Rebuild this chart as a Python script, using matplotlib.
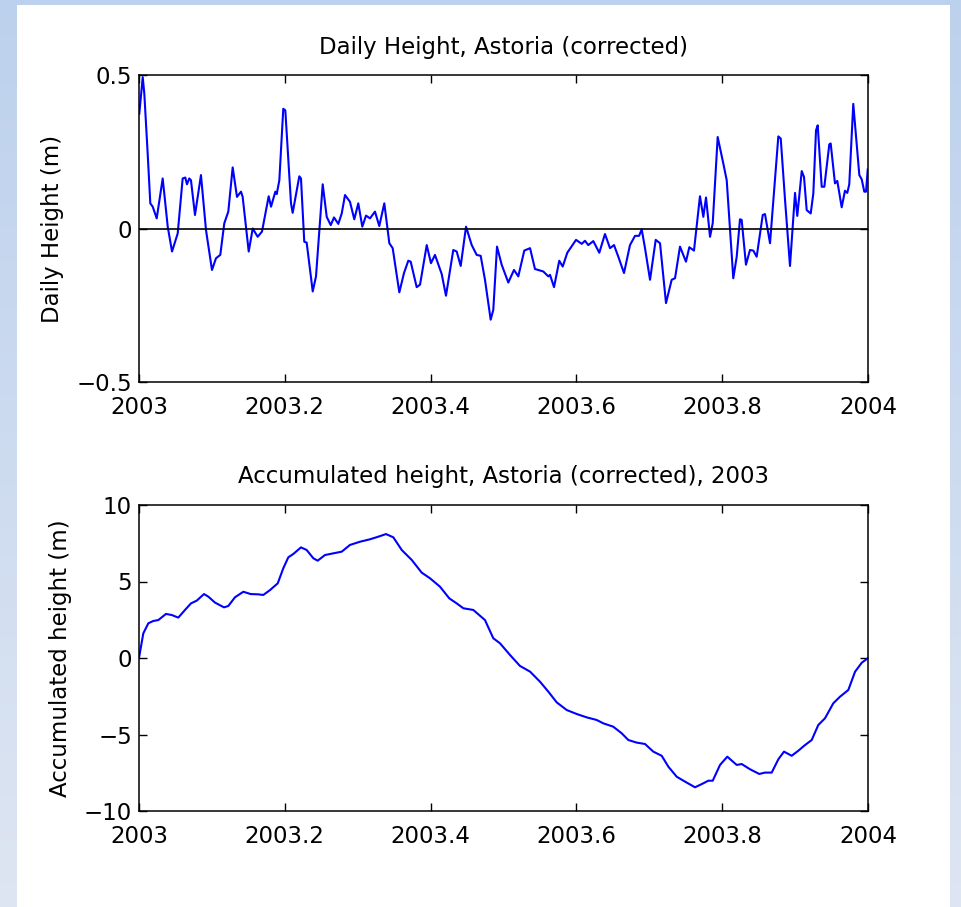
import matplotlib
matplotlib.use("Agg")
import matplotlib.pyplot as plt
import numpy as np
from matplotlib.patches import Rectangle

plt.rcParams['font.family'] = ['DejaVu Sans']

# ---- Data ----
daily_t = [2003.0004, 2003.0051, 2003.0073, 2003.0119, 2003.0155, 2003.0188, 2003.0243, 2003.0325,
           2003.0394, 2003.0453, 2003.0531, 2003.0599, 2003.0635, 2003.0658, 2003.0690, 2003.0713,
           2003.0768, 2003.0850, 2003.0919, 2003.1001, 2003.1056, 2003.1115, 2003.1170, 2003.1225,
           2003.1285, 2003.1344, 2003.1399, 2003.1422, 2003.1505, 2003.1560, 2003.1628, 2003.1687,
           2003.1779, 2003.1811, 2003.1870, 2003.1889, 2003.1925, 2003.1979, 2003.2007, 2003.2085,
           2003.2108, 2003.2199, 2003.2222, 2003.2267, 2003.2300, 2003.2383, 2003.2428, 2003.2520,
           2003.2575, 2003.2630, 2003.2675, 2003.2734, 2003.2781, 2003.2826, 2003.2894, 2003.2953,
           2003.3008, 2003.3063, 2003.3114, 2003.3169, 2003.3237, 2003.3296, 2003.3365, 2003.3434,
           2003.3480, 2003.3571, 2003.3635, 2003.3694, 2003.3727, 2003.3809, 2003.3855, 2003.3947,
           2003.4005, 2003.4060, 2003.4152, 2003.4211, 2003.4311, 2003.4358, 2003.4413, 2003.4486,
           2003.4564, 2003.4632, 2003.4687, 2003.4746, 2003.4824, 2003.4860, 2003.4911, 2003.4975,
           2003.5066, 2003.5144, 2003.5203, 2003.5285, 2003.5364, 2003.5432, 2003.5546, 2003.5615,
           2003.5638, 2003.5693, 2003.5765, 2003.5812, 2003.5875, 2003.5995, 2003.6073, 2003.6118,
           2003.6163, 2003.6232, 2003.6314, 2003.6392, 2003.6461, 2003.6516, 2003.6575, 2003.6653,
           2003.6735, 2003.6804, 2003.6859, 2003.6896, 2003.6941, 2003.7010, 2003.7088, 2003.7147,
           2003.7229, 2003.7307, 2003.7353, 2003.7421, 2003.7503, 2003.7549, 2003.7613, 2003.7695,
           2003.7741, 2003.7778, 2003.7833, 2003.7870, 2003.7938, 2003.8015, 2003.8062, 2003.8152,
           2003.8199, 2003.8244, 2003.8267, 2003.8326, 2003.8381, 2003.8427, 2003.8473, 2003.8556,
           2003.8587, 2003.8656, 2003.8770, 2003.8803, 2003.8862, 2003.8930, 2003.8999, 2003.9030,
           2003.9091, 2003.9122, 2003.9159, 2003.9214, 2003.9250, 2003.9287, 2003.9310, 2003.9365,
           2003.9401, 2003.9469, 2003.9488, 2003.9547, 2003.9579, 2003.9639, 2003.9684, 2003.9716,
           2003.9743, 2003.9798, 2003.9881, 2003.9914, 2003.9949, 2003.9973, 2003.9996]
daily_h = [0.374, 0.493, 0.439, 0.244, 0.082, 0.071, 0.033, 0.163,
           0.006, -0.075, -0.016, 0.163, 0.166, 0.144, 0.163, 0.157,
           0.044, 0.174, -0.005, -0.135, -0.097, -0.086, 0.017, 0.055,
           0.199, 0.103, 0.120, 0.103, -0.075, 0.000, -0.027, -0.010,
           0.105, 0.071, 0.120, 0.112, 0.157, 0.390, 0.385, 0.082,
           0.051, 0.170, 0.163, -0.043, -0.046, -0.205, -0.156, 0.144,
           0.038, 0.011, 0.036, 0.015, 0.049, 0.109, 0.087, 0.030,
           0.082, 0.006, 0.042, 0.033, 0.055, 0.008, 0.082, -0.048,
           -0.064, -0.208, -0.145, -0.105, -0.108, -0.191, -0.183, -0.054,
           -0.113, -0.086, -0.148, -0.219, -0.070, -0.075, -0.122, 0.006,
           -0.054, -0.086, -0.089, -0.167, -0.297, -0.265, -0.059, -0.118,
           -0.176, -0.135, -0.156, -0.072, -0.064, -0.132, -0.140, -0.156,
           -0.151, -0.191, -0.105, -0.124, -0.079, -0.037, -0.050, -0.040,
           -0.054, -0.041, -0.079, -0.018, -0.064, -0.054, -0.092, -0.145,
           -0.054, -0.024, -0.024, -0.003, -0.064, -0.167, -0.037, -0.048,
           -0.243, -0.167, -0.162, -0.059, -0.108, -0.061, -0.072, 0.105,
           0.038, 0.101, -0.027, 0.017, 0.298, 0.212, 0.157, -0.162,
           -0.092, 0.030, 0.028, -0.118, -0.070, -0.072, -0.092, 0.044,
           0.047, -0.048, 0.300, 0.293, 0.093, -0.122, 0.116, 0.041,
           0.187, 0.168, 0.060, 0.049, 0.114, 0.320, 0.336, 0.136,
           0.136, 0.274, 0.277, 0.147, 0.155, 0.069, 0.123, 0.116,
           0.144, 0.406, 0.174, 0.160, 0.120, 0.120, 0.192]

accum_t = [2003.0000, 2003.0059, 2003.0128, 2003.0196, 2003.0265, 2003.0370, 2003.0449, 2003.0539,
           2003.0631, 2003.0713, 2003.0792, 2003.0892, 2003.0951, 2003.1043, 2003.1166, 2003.1225,
           2003.1317, 2003.1431, 2003.1532, 2003.1636, 2003.1705, 2003.1797, 2003.1903, 2003.1979,
           2003.2048, 2003.2117, 2003.2222, 2003.2300, 2003.2391, 2003.2451, 2003.2551, 2003.2665,
           2003.2781, 2003.2894, 2003.3032, 2003.3169, 2003.3283, 2003.3388, 2003.3488, 2003.3604,
           2003.3741, 2003.3878, 2003.3992, 2003.4129, 2003.4256, 2003.4358, 2003.4449, 2003.4586,
           2003.4746, 2003.4860, 2003.4952, 2003.5089, 2003.5226, 2003.5364, 2003.5501, 2003.5615,
           2003.5730, 2003.5867, 2003.6004, 2003.6141, 2003.6278, 2003.6369, 2003.6506, 2003.6621,
           2003.6712, 2003.6827, 2003.6941, 2003.7055, 2003.7170, 2003.7261, 2003.7376, 2003.7490,
           2003.7627, 2003.7741, 2003.7809, 2003.7870, 2003.7970, 2003.8070, 2003.8199, 2003.8267,
           2003.8381, 2003.8509, 2003.8587, 2003.8679, 2003.8770, 2003.8848, 2003.8953, 2003.9044,
           2003.9136, 2003.9228, 2003.9318, 2003.9410, 2003.9524, 2003.9616, 2003.9730, 2003.9822,
           2003.9914, 2003.9996]
accum_h = [0.00, 1.61, 2.27, 2.42, 2.48, 2.88, 2.81, 2.64,
           3.14, 3.57, 3.75, 4.18, 4.01, 3.62, 3.31, 3.40,
           3.97, 4.33, 4.18, 4.16, 4.12, 4.44, 4.88, 5.86,
           6.58, 6.80, 7.23, 7.06, 6.52, 6.36, 6.73, 6.84,
           6.95, 7.39, 7.60, 7.76, 7.93, 8.10, 7.89, 7.06,
           6.41, 5.58, 5.21, 4.66, 3.90, 3.57, 3.25, 3.14,
           2.48, 1.29, 0.96, 0.20, -0.52, -0.89, -1.55, -2.20,
           -2.90, -3.40, -3.66, -3.88, -4.05, -4.27, -4.49, -4.92,
           -5.36, -5.53, -5.62, -6.12, -6.39, -7.10, -7.76, -8.08,
           -8.45, -8.19, -8.02, -8.02, -6.99, -6.45, -6.99, -6.93,
           -7.27, -7.58, -7.49, -7.49, -6.62, -6.12, -6.39, -6.06,
           -5.69, -5.36, -4.38, -3.94, -2.96, -2.53, -2.09, -0.90,
           -0.31, -0.02]

x_ticks = [2003.0, 2003.2, 2003.4, 2003.6, 2003.8, 2004.0]
x_tick_labels = ['2003', '2003.2', '2003.4', '2003.6', '2003.8', '2004']
top_y_ticks = [-0.5, 0, 0.5]
top_y_tick_labels = ['\u22120.5', '0', '0.5']
bot_y_ticks = [-10, -5, 0, 5, 10]
bot_y_tick_labels = ['\u221210', '\u22125', '0', '5', '10']

# ---- Figure ----
W, H = 961, 907
fig = plt.figure(figsize=(W / 100, H / 100), dpi=100)

# background: light-blue frame with gradient, white panel
bg = fig.add_axes([0, 0, 1, 1], zorder=-10)
bg.set_axis_off()
c_top = np.array([0.74, 0.82, 0.93])
c_bot = np.array([0.87, 0.90, 0.95])
g = np.linspace(0, 1, 256)[:, None]
grad = (c_top[None, :] * (1 - g) + c_bot[None, :] * g)[:, None, :]
bg.imshow(grad, aspect='auto', extent=[0, 1, 0, 1], origin='upper')
bg.add_patch(Rectangle((17 / W, 0), (950 - 17) / W, (H - 5) / H,
                       facecolor='white', edgecolor='none', transform=bg.transAxes))
bg.set_xlim(0, 1)
bg.set_ylim(0, 1)

FS = 16.5
left = 139 / W
width = (868 - 139) / W
axw = 868 - 139

ax1 = fig.add_axes([left, 1 - 382 / H, width, 307 / H])
ax2 = fig.add_axes([left, 1 - 811 / H, width, 306 / H])

ax1.plot(daily_t, daily_h, color='#0000ff', lw=1.5, solid_joinstyle='round')
ax1.axhline(0, color='black', lw=1.2)
ax1.set_xlim(2003, 2004)
ax1.set_ylim(-0.5, 0.5)
ax1.set_yticks(top_y_ticks)
ax1.set_yticklabels(top_y_tick_labels)
ax1.set_title('Daily Height, Astoria (corrected)', fontsize=FS, pad=15)
ax1.set_ylabel('Daily Height (m)', fontsize=FS)
ax1.yaxis.set_label_coords((64 - 139) / axw, 0.5)

ax2.plot(accum_t, accum_h, color='#0000ff', lw=1.5, solid_joinstyle='round')
ax2.set_xlim(2003, 2004)
ax2.set_ylim(-10, 10)
ax2.set_yticks(bot_y_ticks)
ax2.set_yticklabels(bot_y_tick_labels)
ax2.set_title('Accumulated height, Astoria (corrected), 2003', fontsize=FS, pad=16)
ax2.set_ylabel('Accumulated height (m)', fontsize=FS)
ax2.yaxis.set_label_coords((72 - 139) / axw, 0.5)

for ax in (ax1, ax2):
    ax.set_xticks(x_ticks)
    ax.set_xticklabels(x_tick_labels)
    ax.tick_params(direction='in', length=6, width=1.0, top=True, right=True,
                   labelsize=FS, color='black')
    ax.tick_params(axis='x', pad=10)
    ax.tick_params(axis='y', pad=5)
    for s in ax.spines.values():
        s.set_linewidth(1.1)
    ax.set_facecolor('white')

fig.savefig('out.png', dpi=100, facecolor=fig.get_facecolor())
